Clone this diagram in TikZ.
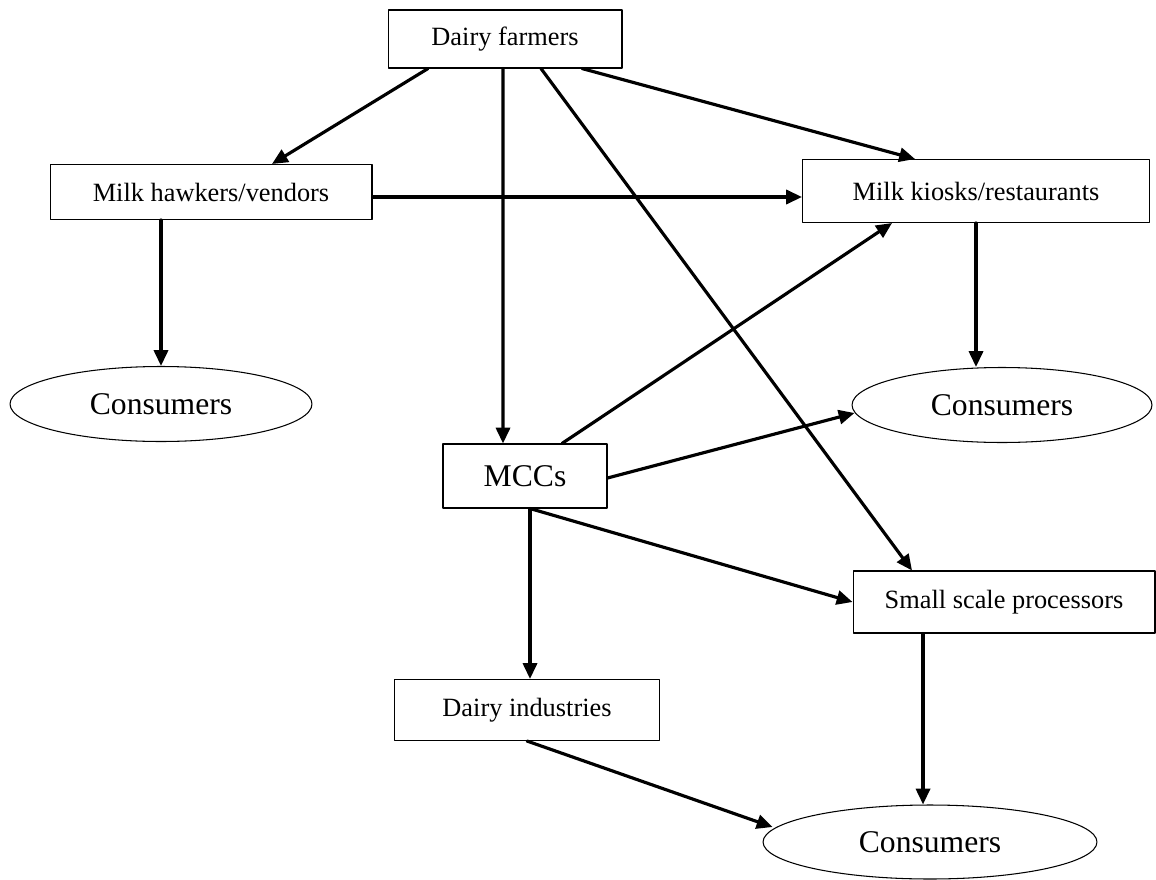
\documentclass[tikz,border=0pt]{standalone}
\usepackage{fontspec}
\setmainfont{Liberation Serif}
\usetikzlibrary{arrows.meta, positioning, shapes.geometric}

\begin{document}
\begin{tikzpicture}[x=0.02cm, y=-0.02cm, line cap=round, line join=round,
    boxnode/.style={draw, line width=0.6pt, inner sep=0pt, font=\fontsize{15}{17}\selectfont},
    consnode/.style={draw, ellipse, line width=0.6pt, inner sep=0pt, minimum height=1.5cm, font=\fontsize{18}{21}\selectfont},
    arr/.style={-{Triangle[length=9pt, width=8pt]}, line width=1.8pt}]
            \useasboundingbox (0,0) rectangle (1156,879);

            % top level
            \node[boxnode, minimum width=4.68cm, minimum height=1.16cm] (df) at (505,39) {Dairy farmers};

            % second row
            \node[boxnode, minimum width=6.44cm, minimum height=1.1cm] (mhv) at (211,192) {Milk hawkers/vendors};
            \node[boxnode, minimum width=6.94cm, minimum height=1.26cm] (mk) at (976,191) {Milk kiosks/restaurants};

            % consumers left and right
            \node[consnode, minimum width=6.04cm] (conl) at (161,404) {Consumers};
            \node[consnode, minimum width=6cm] (conr) at (1002,405) {Consumers};

            % collection centres and processors
            \node[boxnode, minimum width=3.28cm, minimum height=1.28cm, font=\fontsize{18}{21}\selectfont] (mcc) at (525,476) {MCCs};
            \node[boxnode, minimum width=6.04cm, minimum height=1.24cm] (ssp) at (1004,602) {Small scale processors};
            \node[boxnode, minimum width=5.3cm, minimum height=1.22cm] (di) at (527,710) {Dairy industries};

            % consumers bottom
            \node[consnode, minimum width=6.68cm, minimum height=1.48cm] (conb) at (930,842) {Consumers};

            % from dairy farmers
            \draw[arr] ([xshift=-1.54cm]df.south) -- ([xshift=1.22cm]mhv.north);
            \draw[arr] ([xshift=-0.04cm]df.south) -- ([xshift=-0.44cm]mcc.north);
            \draw[arr] ([xshift=0.72cm]df.south) -- ([xshift=-1.84cm]ssp.north);
            \draw[arr] ([xshift=1.54cm]df.south) -- ([xshift=-1.22cm]mk.north);

            % from hawkers and kiosks
            \draw[arr] ([yshift=-0.1cm]mhv.east) -- ([yshift=-0.1cm]mhv.east -| mk.west);
            \draw[arr] (conl.north |- mhv.south) -- (conl.north);
            \draw[arr] (mk.south) -- (mk.south |- conr.north);

            % from MCCs
            \draw[arr] ([xshift=0.74cm]mcc.north) -- ([xshift=-1.68cm]mk.south);
            \draw[arr] ([yshift=-0.04cm]mcc.east) -- ([xshift=0.06cm, yshift=-0.16cm]conr.west);
            \draw[arr] ([xshift=0.1cm]mcc.south) -- ([xshift=0.1cm]mcc.south |- di.north);
            \draw[arr] ([xshift=0.1cm]mcc.south) -- (ssp.west);

            % to bottom consumers
            \draw[arr] ([xshift=-1.62cm]ssp.south) -- ([xshift=-1.62cm]ssp.south |- conb.north);
            \draw[arr] (di.south) -- ([xshift=0.2cm, yshift=0.3cm]conb.west);
        \end{tikzpicture}
\end{document}
